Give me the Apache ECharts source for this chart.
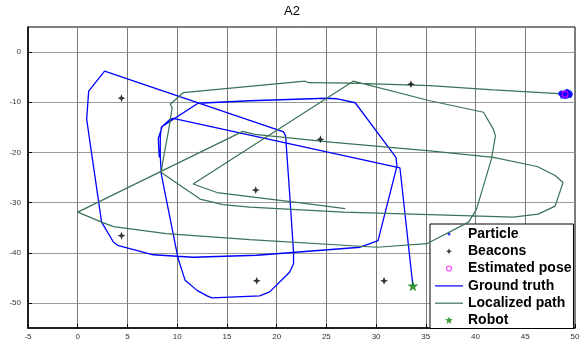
<!DOCTYPE html>
<html>
<head>
<meta charset="utf-8">
<script src="https://cdn.jsdelivr.net/npm/echarts@6/dist/echarts.min.js"></script>
<style>
html,body{margin:0;padding:0;background:#fff;}
#chart{width:584px;height:345px;}
</style>
</head>
<body>
<div id="chart"></div>
<script>
// ---- data ----
const titleText = 'A2';
const xTickValues = [-5, 0, 5, 10, 15, 20, 25, 30, 35, 40, 45, 50];
const yTickValues = [-50, -40, -30, -20, -10, 0];
const legendNames = ['Particle', 'Beacons', 'Estimated pose', 'Ground truth', 'Localized path', 'Robot'];

const particles = [
  [48.5,-8.3],[48.6,-8.0],[48.7,-8.6],[48.8,-8.1],[48.9,-8.8],[49.0,-7.9],[49.1,-8.5],
  [49.2,-8.9],[49.3,-8.2],[49.4,-8.6],[49.5,-8.0],[49.5,-8.8],[48.7,-8.9],[49.2,-7.7],
  [48.9,-8.4],[49.6,-8.4],[48.6,-8.5],[49.0,-9.0],[49.3,-7.9],[49.1,-8.2]
];
const beacons = [
  [4.4,-9.2],[33.5,-6.4],[24.4,-17.4],[17.9,-27.5],[4.4,-36.6],[18.0,-45.6],[30.8,-45.6]
];
const estimatedPose = [[49.0,-8.4]];
const robot = [[33.7,-46.6]];

const groundTruth = [
  [8.2,-21.0],[8.1,-17.2],[8.5,-14.8],[12.1,-10.2],[17.3,-9.7],[25.0,-9.2],[26.0,-9.3],
  [27.9,-10.1],[32.0,-21.0],[32.1,-22.7],[30.2,-37.6],[28.4,-38.9],[18.0,-40.5],[11.6,-40.9],
  [7.6,-40.4],[4.1,-38.6],[3.6,-37.9],[2.4,-33.9],[0.9,-13.4],[1.1,-7.8],[2.7,-3.8],
  [20.7,-15.9],[20.9,-16.7],[21.3,-28.0],[21.7,-39.9],[21.7,-42.2],[21.3,-43.9],[19.3,-47.8],
  [18.3,-48.6],[13.5,-49.0],[13.0,-48.6],[12.0,-47.5],[10.8,-45.5],[10.1,-41.2],[8.9,-29.3],
  [8.4,-24.3],[8.3,-20.7],[8.3,-17.0],[8.4,-15.0],[9.3,-13.4],[9.6,-13.2],[32.4,-23.1],[33.7,-46.6]
];

const localizedPath = [
  [26.9,-31.2],[23.4,-30.3],[14.0,-28.0],[11.6,-26.3],[27.7,-5.8],[35.4,-9.7],[40.8,-12.0],
  [41.8,-15.4],[42.0,-16.7],[41.6,-21.3],[40.1,-31.3],[39.3,-33.9],[35.1,-38.2],[30.1,-38.9],
  [17.3,-37.4],[8.9,-36.2],[3.6,-34.8],[2.4,-33.9],[0.0,-31.9],[16.6,-15.8],[17.8,-16.4],
  [25.7,-18.0],[35.4,-19.7],[41.8,-21.0],[46.2,-22.8],[48.0,-24.6],[48.8,-26.0],[48.0,-30.7],
  [46.3,-32.3],[43.8,-32.9],[35.4,-32.4],[26.7,-31.9],[17.3,-30.9],[14.6,-30.4],[12.3,-29.3],
  [8.4,-24.0],[8.6,-21.3],[9.1,-16.0],[9.5,-11.1],[9.3,-10.4],[10.6,-8.1],[22.85,-5.8],
  [23.2,-6.1],[27.4,-6.2],[35.4,-6.7],[41.8,-7.55],[48.8,-8.35]
];

// ---- styles ----
const BLUE = '#0000ff';
const GREEN = '#3a7357';
const STAR_GREEN = '#0a800a';
const MAGENTA = '#ff00ff';
const beaconSymbol = 'path://M0,-10L2.8,-2.8L10,0L2.8,2.8L0,10L-2.8,2.8L-10,0L-2.8,-2.8Z';
const robotSymbol = 'path://M14,0.8L15,3.62L17.99,3.7L15.62,5.53L16.47,8.4L14,6.7L11.53,8.4L12.38,5.53L10.01,3.7L13,3.62Z';
const padBox = 'M0,0M28,10';
const iconParticle = 'path://' + padBox + 'M12.5,5a1.5,1.5 0 1 0 3 0a1.5,1.5 0 1 0 -3 0Z';
const iconBeacon = 'path://' + padBox + 'M14,2L14.9,4.1L17,5L14.9,5.9L14,8L13.1,5.9L11,5L13.1,4.1Z';
const iconPose = 'path://' + padBox + 'M11,5a3,3 0 1,1 6,0a3,3 0 1,1 -6,0ZM12,5a2,2 0 1,0 4,0a2,2 0 1,0 -4,0Z';
const iconRobot = 'path://' + padBox + 'M14,0.8L15,3.62L17.99,3.7L15.62,5.53L16.47,8.4L14,6.7L11.53,8.4L12.38,5.53L10.01,3.7L13,3.62Z';
const iconLine = 'path://' + padBox + 'M0,4.4L28,4.4L28,5.6L0,5.6Z';

const chart = echarts.init(document.getElementById('chart'), null, {renderer: 'canvas'});
const FONT = '"Liberation Sans", Arial, sans-serif';

chart.setOption({
  animation: false,
  backgroundColor: '#fff',
  title: {
    text: titleText, left: 'center', top: 0,
    textStyle: {fontSize: 13, fontWeight: 'normal', color: '#000', fontFamily: FONT}
  },
  grid: {left: 28, right: 9, top: 27, bottom: 17, show: true, borderColor: '#000', borderWidth: 1, backgroundColor: 'transparent'},
  xAxis: {
    type: 'value', min: -5, max: 50, interval: 5,
    axisLine: {onZero: false, lineStyle: {color: '#000', width: 1.5}},
    axisTick: {inside: true, length: 4, lineStyle: {color: '#000'}},
    axisLabel: {fontSize: 8, color: '#333', margin: 5, fontFamily: FONT, customValues: xTickValues},
    splitLine: {show: true, lineStyle: {color: '#7a7a7a', width: 1}}
  },
  yAxis: {
    type: 'value', min: -55, max: 5,
    axisLine: {onZero: false, lineStyle: {color: '#000', width: 1.5}},
    axisTick: {inside: true, length: 4, lineStyle: {color: '#000'}, customValues: yTickValues},
    axisLabel: {fontSize: 8, color: '#333', margin: 7, fontFamily: FONT, customValues: yTickValues},
    splitLine: {show: true, lineStyle: {color: '#9a9a9a', width: 1}}
  },
  legend: {
    orient: 'vertical', left: 430, top: 224,
    backgroundColor: '#fff', borderColor: '#000', borderWidth: 1,
    padding: [3, 2, 1, 5], itemGap: 3.3, itemWidth: 28, itemHeight: 10,
    textStyle: {fontSize: 14, fontWeight: 'bold', color: '#000', fontFamily: FONT, lineHeight: 14},
    data: [
      {name: 'Particle', icon: iconParticle, itemStyle: {color: BLUE, borderWidth: 0}},
      {name: 'Beacons', icon: iconBeacon, itemStyle: {color: '#000', borderWidth: 0}},
      {name: 'Estimated pose', icon: iconPose, itemStyle: {color: MAGENTA, borderWidth: 0}},
      {name: 'Ground truth', icon: iconLine, itemStyle: {color: BLUE, borderWidth: 0}},
      {name: 'Localized path', icon: iconLine, itemStyle: {color: GREEN, borderWidth: 0}},
      {name: 'Robot', icon: iconRobot, itemStyle: {color: STAR_GREEN, borderWidth: 0}}
    ]
  },
  series: [
    {name: 'Ground truth', type: 'line', data: groundTruth, symbol: 'none', z: 3,
      lineStyle: {color: BLUE, width: 1.3}, itemStyle: {color: BLUE}},
    {name: 'Localized path', type: 'line', data: localizedPath, symbol: 'none', z: 4,
      lineStyle: {color: GREEN, width: 1.2}, itemStyle: {color: GREEN}},
    {name: 'Particle', type: 'scatter', data: particles, symbol: 'circle', symbolSize: 4, z: 5,
      itemStyle: {color: BLUE}},
    {name: 'Beacons', type: 'scatter', data: beacons, symbol: beaconSymbol, symbolSize: 8, z: 5,
      itemStyle: {color: '#000'}},
    {name: 'Estimated pose', type: 'scatter', data: estimatedPose, symbol: 'circle', symbolSize: 6, z: 6,
      itemStyle: {color: 'transparent', borderColor: MAGENTA, borderWidth: 1.2}},
    {name: 'Robot', type: 'scatter', data: robot, symbol: robotSymbol, symbolSize: 11, z: 6,
      itemStyle: {color: STAR_GREEN}}
  ]
});
</script>
</body>
</html>
